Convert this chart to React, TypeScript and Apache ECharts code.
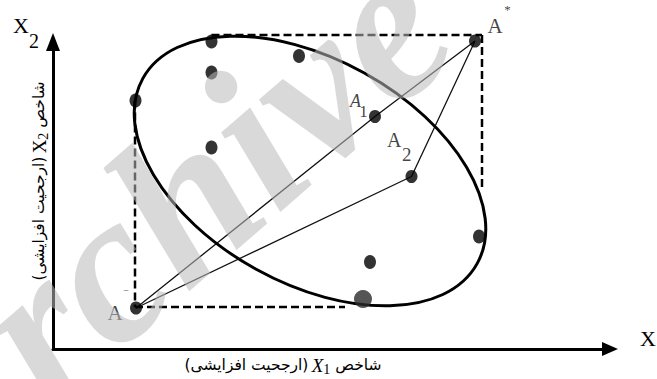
import React, { useEffect, useRef } from "react";
import * as echarts from "echarts";

// ---------- data (diagram units: 1 unit on both axes) ----------
const xRange = [0, 111];
const yRange = [0, 62];

const clusterPoints: [number, number][] = [
  [31.7, 61.5],
  [31.7, 55.3],
  [49.2, 58.6],
  [16.5, 49.7],
  [31.7, 40.3],
  [85.2, 22.5],
  [63.4, 17.4],
];
const bigPoint: [number, number][] = [[62.0, 10.0]];

const idealPoint: [number, number] = [84.4, 61.6]; // A*
const antiIdealPoint: [number, number] = [16.6, 8.2]; // A-
const alt1Point: [number, number] = [64.4, 46.5]; // A1
const alt2Point: [number, number] = [71.7, 34.5]; // A2

const anchorPoints: [number, number][] = [idealPoint, antiIdealPoint, alt1Point, alt2Point];
const anchorLetters = ["A", "A", "A", "A"];
const anchorScripts = ["*", "−", "1", "2"];

// ellipse: centre x, centre y, semi-major, semi-minor, angle (deg)
const ellipseParams = [51.4, 35.6, 38.2, 22.4, -29];

const dashedTop: [number, number][] = [[31.7, 62.8], [85.8, 62.8]];
const dashedRight: [number, number][] = [[85.8, 62.8], [85.8, 31.8]];
const dashedBottom: [number, number][] = [[16.4, 8.4], [58.4, 8.4]];
const dashedLeft: [number, number][] = [[16.4, 49.7], [16.4, 8.4]];

const pathToA1: [number, number][] = [antiIdealPoint, alt1Point, idealPoint];
const pathToA2: [number, number][] = [antiIdealPoint, alt2Point, idealPoint];

const captionWords = ["شاخص", "(ارجحیت افزایشی)"];
const axisLetter = "X";
const xIndex = "1";
const yIndex = "2";
const watermark = "Archive of SID";

// ---------- styles ----------
const W = 657;
const H = 379;
const SERIF = '"Liberation Serif", "Times New Roman", serif';
const PERSIAN = '"DejaVu Sans", sans-serif';

const letterStyle = [
  { offset: [20, -15.5], fontSize: 21, fontStyle: "normal" },
  { offset: [-21, 4.5], fontSize: 21, fontStyle: "normal" },
  { offset: [-19.5, -16], fontSize: 18, fontStyle: "italic" },
  { offset: [-17.2, -37], fontSize: 20, fontStyle: "normal" },
];
const scriptStyle = [
  { offset: [32.5, -32], fontSize: 13 },
  { offset: [-10, -18], fontSize: 10 },
  { offset: [-11.5, -5], fontSize: 17 },
  { offset: [-4.7, -22], fontSize: 19 },
];

function dashed(data: [number, number][]) {
  return {
    type: "line",
    data,
    showSymbol: false,
    symbol: "none",
    clip: false,
    silent: true,
    z: 1,
    lineStyle: { color: "#000", width: 2.5, type: [8, 4] },
  };
}

function thin(data: [number, number][]) {
  return {
    type: "line",
    data,
    showSymbol: false,
    symbol: "none",
    clip: false,
    silent: true,
    z: 2,
    lineStyle: { color: "#111", width: 1.3 },
  };
}

function buildOption() {
  const captionRich = {
    p: { fontFamily: PERSIAN, fontSize: 15.5, color: "#333" },
    x: { fontFamily: SERIF, fontSize: 19, fontStyle: "italic", color: "#222" },
    xu: { fontFamily: SERIF, fontSize: 19, color: "#222" },
    s: { fontFamily: SERIF, fontSize: 14, color: "#222", padding: [9, 0, 0, 0] },
  };
  const axisRich = {
    x: { fontFamily: SERIF, fontSize: 22, color: "#111" },
    s: { fontFamily: SERIF, fontSize: 20, color: "#111", padding: [30, 0, 0, 0] },
  };

  return {
    animation: false,
    backgroundColor: "#fff",
    grid: { left: 53, right: W - 53 - 555, top: H - 30 - 310, bottom: 30 },
    xAxis: {
      type: "value",
      min: xRange[0],
      max: xRange[1],
      axisLine: {
        show: true,
        onZero: false,
        symbol: ["none", "triangle"],
        symbolSize: [14, 16],
        symbolOffset: [0, 2],
        lineStyle: { color: "#000", width: 3 },
      },
      axisTick: { show: false },
      axisLabel: { show: false },
      splitLine: { show: false },
    },
    yAxis: {
      type: "value",
      min: yRange[0],
      max: yRange[1],
      axisLine: {
        show: true,
        onZero: false,
        symbol: ["none", "triangle"],
        symbolSize: [14, 18],
        symbolOffset: [0, -3],
        lineStyle: { color: "#000", width: 3 },
      },
      axisTick: { show: false },
      axisLabel: { show: false },
      splitLine: { show: false },
    },
    graphic: [
      {
        type: "text",
        x: 13,
        y: 25.5,
        style: {
          text: `{x|${axisLetter}}{s|${yIndex}}`,
          rich: axisRich,
          align: "left",
          verticalAlign: "middle",
        },
      },
      {
        type: "text",
        x: 640,
        y: 338.5,
        style: {
          text: `{x|${axisLetter}}{s|${xIndex}}`,
          rich: axisRich,
          align: "left",
          verticalAlign: "middle",
        },
      },
      {
        type: "text",
        x: 283,
        y: 365,
        style: {
          text: `{p|${captionWords[1]}} {x|${axisLetter}}{s|${xIndex}}{p| ${captionWords[0]}}`,
          rich: captionRich,
          align: "center",
          verticalAlign: "middle",
        },
      },
      {
        type: "text",
        x: 39,
        y: 181,
        rotation: Math.PI / 2,
        style: {
          text: `{p|${captionWords[1]}} {xu|${axisLetter}}{s|${yIndex}}{p| ${captionWords[0]}}`,
          rich: captionRich,
          align: "center",
          verticalAlign: "middle",
        },
      },
      {
        type: "text",
        x: 400,
        y: 12,
        rotation: (41 * Math.PI) / 180,
        silent: true,
        z: 100,
        style: {
          text: watermark,
          font: `italic bold 215px ${SERIF}`,
          fill: "rgba(185,185,185,0.55)",
          align: "center",
          verticalAlign: "middle",
        },
      },
    ],
    series: [
      dashed(dashedTop),
      dashed(dashedRight),
      dashed(dashedBottom),
      dashed(dashedLeft),
      thin(pathToA1),
      thin(pathToA2),
      {
        type: "custom",
        coordinateSystem: "cartesian2d",
        data: [ellipseParams],
        encode: { x: 0, y: 1 },
        clip: false,
        silent: true,
        z: 3,
        renderItem: (_params: any, api: any) => {
          const c = api.coord([api.value(0), api.value(1)]);
          const rx = api.size([api.value(2), 0])[0];
          const ry = api.size([0, api.value(3)])[1];
          return {
            type: "ellipse",
            x: c[0],
            y: c[1],
            rotation: (api.value(4) * Math.PI) / 180,
            shape: { cx: 0, cy: 0, rx, ry },
            style: { fill: "none", stroke: "#000", lineWidth: 3 },
          };
        },
      },
      {
        type: "scatter",
        data: clusterPoints,
        symbol: "circle",
        symbolSize: [12, 14],
        clip: false,
        silent: true,
        z: 4,
        itemStyle: { color: "#000" },
      },
      {
        type: "scatter",
        data: bigPoint,
        symbol: "circle",
        symbolSize: 18,
        clip: false,
        silent: true,
        z: 4,
        itemStyle: { color: "#2b2b2b" },
      },
      {
        type: "scatter",
        symbol: "circle",
        symbolSize: [12, 13],
        clip: false,
        silent: true,
        z: 4,
        itemStyle: { color: "#000" },
        data: anchorPoints.map((p, i) => ({
          value: p,
          label: {
            show: true,
            position: "inside",
            formatter: anchorLetters[i],
            offset: letterStyle[i].offset,
            fontSize: letterStyle[i].fontSize,
            fontStyle: letterStyle[i].fontStyle,
            fontFamily: SERIF,
            color: "#111",
            align: "center",
            verticalAlign: "middle",
          },
        })),
      },
      {
        type: "scatter",
        symbol: "circle",
        symbolSize: 0.1,
        clip: false,
        silent: true,
        z: 5,
        itemStyle: { color: "rgba(0,0,0,0)" },
        data: anchorPoints.map((p, i) => ({
          value: p,
          label: {
            show: true,
            position: "inside",
            formatter: anchorScripts[i],
            offset: scriptStyle[i].offset,
            fontSize: scriptStyle[i].fontSize,
            fontFamily: SERIF,
            color: "#111",
            align: "center",
            verticalAlign: "middle",
          },
        })),
      },
    ],
  };
}

export default function App() {
  const ref = useRef<HTMLDivElement>(null);
  useEffect(() => {
    const chart = echarts.init(ref.current!, undefined, { renderer: "svg", width: W, height: H });
    chart.setOption(buildOption() as any);
    return () => chart.dispose();
  }, []);
  return (
    <div
      ref={ref}
      style={{ position: "fixed", left: 0, top: 0, width: W, height: H, background: "#fff" }}
    />
  );
}
